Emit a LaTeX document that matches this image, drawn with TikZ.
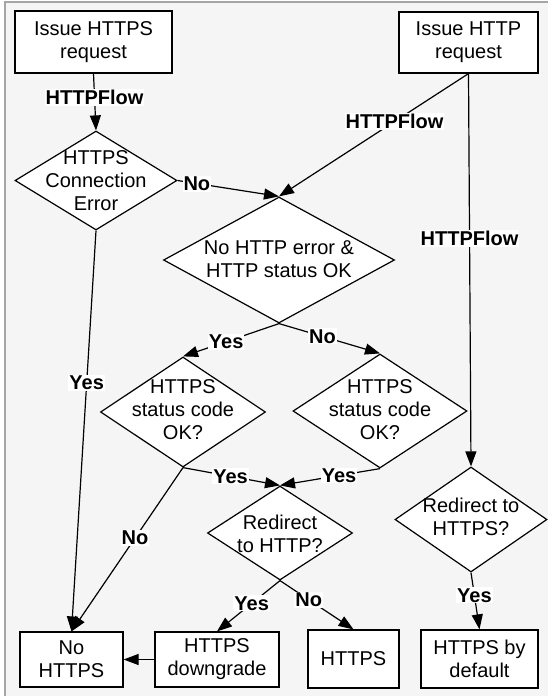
\documentclass[tikz,border=0pt]{standalone}
\usepackage{fontspec}
\setmainfont{Liberation Sans}
\usetikzlibrary{shapes.geometric,arrows.meta}
\definecolor{bgc}{RGB}{245,245,245}
\definecolor{framec}{RGB}{165,165,165}
\begin{document}
\begin{tikzpicture}[x=1pt,y=-1pt,
  every node/.style={font=\fontsize{20}{23}\selectfont},
  box/.style={draw, line width=1.2pt, fill=white, rectangle, inner sep=0pt, align=center},
  dia/.style={draw, line width=1.2pt, fill=white, diamond, inner sep=0pt},
  dtext/.style={align=center, inner sep=0pt},
  conn/.style={line width=1.2pt, -{Triangle[length=15pt,width=11pt]}},
  lbl/.style={fill=white, inner sep=1pt, font=\fontsize{20}{23}\selectfont\bfseries}]
\useasboundingbox (0,0) rectangle (547,696);
\fill[white] (0,0) rectangle (547,696);
\filldraw[fill=bgc, draw=framec, line width=1.5pt] (5,2) rectangle (560,710);

% boxes
\node[box, minimum width=157, minimum height=62] (a1) at (93.5,42) {Issue HTTPS\\request};
\node[box, minimum width=139, minimum height=61] (a2) at (468.5,42.5) {Issue HTTP\\request};
\node[box, minimum width=103, minimum height=55] (n1) at (71.5,659.5) {No\\HTTPS};
\node[box, minimum width=124, minimum height=55] (dg) at (217,659.5) {HTTPS\\downgrade};
\node[box, minimum width=91, minimum height=58] (h) at (353.5,659) {HTTPS};
\node[box, minimum width=117, minimum height=58] (hd) at (479.5,659) {HTTPS by\\default};

% diamonds
\node[dia, minimum width=162, minimum height=99] (d1) at (96,180.5) {};
\node[dtext] (d1t) at (d1) {HTTPS\\Connection\\Error};
\node[dia, minimum width=231, minimum height=126] (d2) at (279,260) {};
\node[dtext] (d2t) at (279,259) {No HTTP error \&\\HTTP status OK};
\node[dia, minimum width=165, minimum height=110] (s1) at (183,412) {};
\node[dtext] (s1t) at (183,410) {HTTPS\\status code\\OK?};
\node[dia, minimum width=174, minimum height=114] (s2) at (380,411) {};
\node[dtext] (s2t) at (380,410) {HTTPS\\status code\\OK?};
\node[dia, minimum width=145, minimum height=94] (r1) at (280,533) {};
\node[dtext] (r1t) at (280,533.5) {Redirect\\to HTTP?};
\node[dia, minimum width=152, minimum height=105] (r2) at (471,519.5) {};
\node[dtext] (r2t) at (471,517) {Redirect to\\HTTPS?};

% connectors
\draw[conn] (a1.south) -- node[lbl, pos=0.42] {HTTPFlow} (d1.north);
\draw[conn] (a2.south) -- node[lbl, pos=0.39] {HTTPFlow} (d2.north);
\draw[conn] (a2.south) -- node[lbl, pos=0.42] {HTTPFlow} (r2.north);
\draw[conn] (d1.east) -- node[lbl, pos=0.19] {No} (d2.north);
\draw[conn] (d1.south) -- node[lbl, pos=0.38] {Yes} (n1.north);
\draw[conn] (d2.south) -- node[lbl, pos=0.55] {Yes} (s1.north);
\draw[conn] (d2.south) -- node[lbl, pos=0.43] {No} (s2.north);
\draw[conn] (s1.south) -- node[lbl, pos=0.49] {Yes} (r1.north);
\draw[conn] (s2.south) -- node[lbl, pos=0.41] {Yes} (r1.north);
\draw[conn] (s1.south) -- node[lbl, pos=0.43] {No} (n1.north);
\draw[conn] (r1.south) -- node[lbl, pos=0.45] {Yes} (dg.north);
\draw[conn] (r1.south) -- node[lbl, pos=0.39] {No} (h.north);
\draw[conn] (dg.west) -- (n1.east);
\draw[conn] (r2.south) -- node[lbl, pos=0.4] {Yes} (hd.north);
\end{tikzpicture}
\end{document}
